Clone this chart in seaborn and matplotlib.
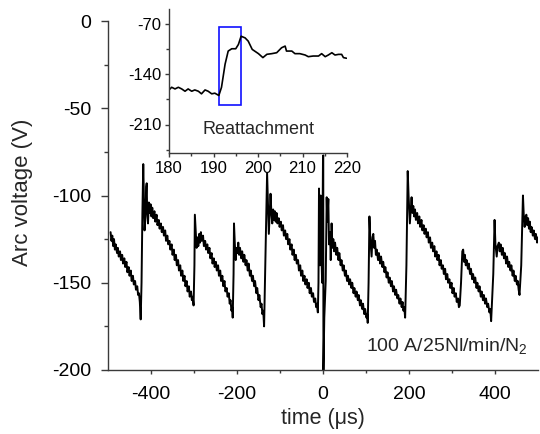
import numpy as np
import pandas as pd
import matplotlib
matplotlib.use("Agg")
import matplotlib.pyplot as plt
import seaborn as sns

# ---------------- data ----------------
time_us = [
    -494, -492, -490, -488, -486, -484, -482, -479, -477, -475, -472, -470, -467, -465, -462, -460,
    -457, -455, -452, -450, -447, -445, -442, -440, -437, -435, -432, -430, -428, -426, -425, -424,
    -422, -420, -418, -417, -415, -413, -411, -410, -409, -407, -405, -403, -401, -399, -397, -395,
    -392, -390, -387, -385, -382, -380, -377, -375, -372, -370, -367, -365, -362, -360, -357, -355,
    -352, -350, -347, -345, -342, -340, -337, -335, -332, -330, -327, -325, -322, -320, -317, -315,
    -312, -310, -307, -305, -303, -301,
    -299, -298, -296, -294, -292, -290, -288, -286, -284, -282, -279, -277, -274, -272, -269, -267,
    -264, -262, -259, -257, -254, -252, -249, -247, -244, -242, -239, -237, -234, -232, -229, -227,
    -224, -222, -219, -217, -215, -213, -211, -210,
    -208, -207, -205, -203, -201, -199, -197, -195, -193, -190, -188, -185, -183, -180, -178, -175,
    -173, -170, -168, -165, -163, -160, -158, -155, -153, -150, -148, -145, -143, -141, -139, -137,
    -135, -132, -130, -128, -126, -124, -122, -120, -118, -116, -114, -112, -110, -108, -106, -103,
    -101, -98, -96, -93, -91, -88, -86, -83, -81, -78, -76, -73, -71, -68, -66, -63, -61, -58, -56,
    -53, -51, -48, -46, -43, -41, -38, -36, -33, -31, -28, -26, -23, -21, -18, -16, -14, -12,
    -10.5, -9.3, -8, -7, -5.4, -4, -2, -1, 0, 0.6, 1.0, 3, 6.3, 8.6, 10, 12.4, 14, 16.3, 18, 20,
    22, 24, 26, 28, 31, 33, 36, 38, 41, 43, 46, 48, 51, 53, 56, 58, 61, 63, 66, 68, 71, 73, 76, 78,
    81, 83, 86, 88, 91, 93, 96, 98, 101, 103, 104,
    106, 108, 110, 113, 115, 117, 119, 121, 123, 125, 128, 130, 133, 135, 138, 140, 143, 145, 148,
    150, 153, 155, 158, 160, 163, 165, 168, 170, 173, 175, 178, 180, 183, 185, 187, 189, 191,
    194, 197, 199, 202, 204, 206, 208, 210, 212, 214, 216, 219, 221, 224, 226, 229, 231, 234, 236,
    239, 241, 244, 246, 249, 251, 254, 256, 259, 261, 264, 266, 269, 271, 274, 276, 279, 281, 284,
    286, 289, 291, 294, 296, 299, 301, 304, 306, 309, 311, 314, 316, 318,
    321, 324, 326, 328, 330, 332, 334, 337, 339, 342, 344, 347, 349, 352, 354, 357, 359, 362, 364,
    367, 369, 372, 374, 377, 379, 382, 384, 387, 389, 391,
    396, 399, 401, 404, 406, 409, 411, 413, 416, 418, 421, 423, 426, 428, 431, 433, 436, 438, 441,
    443, 446, 448, 451, 453, 455, 457,
    461, 465, 467, 469, 471, 473, 475, 477, 479, 481, 483, 485, 488, 490, 493, 495, 498, 500,
]
voltage_V = [
    -121, -126, -123, -129, -125, -131, -128, -133, -130, -135, -132, -137, -134, -139, -136, -141,
    -138, -144, -141, -146, -143, -149, -146, -151, -149, -154, -152, -157, -156, -161, -166, -171,
    -150, -110, -82, -95, -120, -112, -95, -93, -108, -116, -104, -110, -105, -112, -107, -113,
    -109, -115, -111, -117, -114, -119, -116, -121, -118, -123, -120, -126, -123, -128, -126, -131,
    -128, -134, -131, -137, -134, -140, -137, -143, -140, -146, -143, -149, -146, -152, -149, -155,
    -152, -158, -155, -160, -158, -163,
    -140, -111, -120, -130, -124, -129, -122, -127, -121, -126, -123, -129, -126, -131, -128, -133,
    -130, -136, -133, -139, -136, -141, -138, -143, -140, -146, -143, -149, -146, -152, -149, -155,
    -153, -158, -156, -162, -160, -166, -164, -170,
    -145, -116, -128, -137, -130, -133, -127, -134, -130, -136, -132, -138, -134, -140, -137, -143,
    -139, -146, -143, -149, -146, -152, -149, -156, -153, -160, -157, -164, -162, -168, -166, -175,
    -150, -110, -87, -105, -122, -110, -99, -110, -116, -108, -114, -109, -115, -110, -116, -113,
    -118, -115, -120, -117, -123, -120, -125, -122, -128, -125, -131, -128, -134, -131, -137, -134,
    -139, -137, -143, -140, -146, -143, -149, -146, -151, -148, -153, -150, -156, -153, -158, -156,
    -161, -159, -164, -162, -167,
    -150, -96, -125, -140, -100, -130, -150, -110, -78, -77, -201, -170, -149, -101, -115, -102,
    -128, -121, -137, -116,
    -130, -125, -132, -127, -134, -130, -137, -133, -140, -137, -143, -140, -146, -143, -149, -146,
    -151, -148, -153, -150, -156, -153, -158, -155, -160, -157, -163, -160, -165, -162, -168, -165,
    -170, -168, -173,
    -150, -112, -125, -135, -124, -122, -130, -126, -134, -131, -137, -133, -139, -135, -141, -138,
    -144, -141, -147, -144, -150, -147, -152, -149, -155, -152, -157, -154, -159, -157, -162, -159,
    -164, -161, -166, -164, -170,
    -140, -86, -100, -116, -108, -101, -110, -106, -112, -108, -114, -110, -116, -112, -118, -114,
    -120, -117, -122, -119, -124, -121, -127, -124, -130, -127, -132, -129, -135, -132, -137, -134,
    -140, -137, -142, -140, -145, -142, -148, -145, -150, -148, -153, -150, -156, -153, -158, -156,
    -161, -159, -164, -163,
    -150, -132, -131, -138, -134, -140, -137, -142, -139, -145, -142, -148, -145, -150, -147, -153,
    -150, -155, -152, -158, -155, -160, -157, -162, -159, -164, -162, -167, -165, -172,
    -145, -114, -128, -135, -129, -127, -132, -128, -134, -130, -136, -133, -139, -135, -141, -138,
    -143, -140, -146, -143, -149, -146, -151, -149, -154, -157,
    -140, -100, -112, -118, -112, -111, -117, -113, -119, -115, -121, -118, -123, -120, -125, -122,
    -127, -124,
]

# inset: zoom on the reattachment event
inset_time_us = [
    180.0, 180.6, 181.35, 182.1, 182.85, 183.6, 184.3, 185.1, 185.8, 186.6, 187.3, 188.1, 188.8,
    189.6, 190.3, 191.2, 191.8, 192.6, 193.3, 194.1, 195.0, 195.6, 196.2, 197.1, 197.8, 198.7,
    200.1, 201.1, 202.0, 203.1, 204.2, 205.3, 206.1, 206.4, 207.6, 208.3, 209.4, 210.6, 211.3,
    212.4, 213.6, 214.3, 215.1, 215.8, 216.6, 217.3, 218.1, 218.8, 219.2, 219.9,
]
inset_voltage_V = [
    -162, -158.3, -160.6, -158.3, -160.6, -163.8, -160.6, -163.8, -162, -163.8, -167.4, -162,
    -163.8, -167.4, -166.5, -169.7, -158.3, -126.3, -108, -104.8, -104.8, -98.8, -87.4, -89.7,
    -94.2, -105.7, -111.6, -117.1, -112.5, -111.6, -110.3, -103.4, -101.1, -108, -108, -111.6,
    -111.6, -113.5, -115.8, -114.9, -114.9, -111.6, -115.8, -113.5, -110.3, -113.5, -112.6,
    -112.6, -117.1, -118,
]
box_t = [191.3, 196.2]
box_v = [-183.5, -75.0]

main_xticks = [-400, -200, 0, 200, 400]
main_yticks = [0, -50, -100, -150, -200]
inset_xticks = [180, 190, 200, 210, 220]
inset_yticks = [-70, -140, -210]

# ---------------- style ----------------
sns.set_style("ticks")
plt.rcParams["font.family"] = ["Liberation Sans", "DejaVu Sans"]
plt.rcParams["mathtext.fontset"] = "custom"
plt.rcParams["mathtext.rm"] = "Liberation Sans"
plt.rcParams["mathtext.it"] = "Liberation Sans"
plt.rcParams["axes.unicode_minus"] = False

spine_col = "#3a3a3a"

fig = plt.figure(figsize=(5.4, 4.34), dpi=100)
ax = fig.add_axes([108 / 540, 1 - 370 / 434, 430 / 540, 349 / 434])

df = pd.DataFrame({"t": time_us, "v": voltage_V})
sns.lineplot(data=df, x="t", y="v", ax=ax, color="black", lw=1.4,
             estimator=None, sort=False)

ax.set_xlim(-500, 500)
ax.set_ylim(-200, 0)
ax.set_xticks(main_xticks)
ax.set_yticks(main_yticks)
ax.set_xticks([-300, -100, 100, 300], minor=True)
ax.set_yticks([-25, -75, -125, -175], minor=True)
ax.tick_params(axis="both", which="both", direction="out", color=spine_col,
               width=1.0, labelsize=14, labelcolor="black")
ax.tick_params(axis="y", which="major", length=5, pad=7)
ax.tick_params(axis="y", which="minor", length=3)
ax.tick_params(axis="x", which="major", length=3.2, pad=8)
ax.tick_params(axis="x", which="minor", length=2.5)
sns.despine(ax=ax)
for s in ["left", "bottom"]:
    ax.spines[s].set_color(spine_col)
    ax.spines[s].set_linewidth(1.0)
ax.set_xlabel("time (\u03bcs)", fontsize=15.5)
ax.set_ylabel("Arc voltage (V)", fontsize=16)
ax.xaxis.set_label_coords(0.5, -0.108)
ax.yaxis.set_label_coords(-0.175, 0.51)
ax.text(477, -186, "100 A/25Nl/min/N$_2$", ha="right", va="center", fontsize=14)

# ---------------- inset ----------------
ax_in = fig.add_axes([169 / 540, 1 - 153.3 / 434, 178 / 540, 144 / 434])
ax_in.patch.set_alpha(0)
dfi = pd.DataFrame({"t": inset_time_us, "v": inset_voltage_V})
sns.lineplot(data=dfi, x="t", y="v", ax=ax_in, color="black", lw=1.2,
             estimator=None, sort=False)
ax_in.add_patch(plt.Rectangle((box_t[0], box_v[0]), box_t[1] - box_t[0], box_v[1] - box_v[0],
                              fill=False, edgecolor="#1010ff", lw=1.2))
ax_in.set_xlim(180, 220)
ax_in.set_ylim(-250, -50)
ax_in.set_xticks(inset_xticks)
ax_in.set_yticks(inset_yticks)
ax_in.set_xticks([185, 195, 205, 215], minor=True)
ax_in.set_yticks([-105, -175, -245], minor=True)
ax_in.tick_params(axis="both", which="both", direction="out", color=spine_col,
                  width=1.0, labelsize=12, labelcolor="black")
ax_in.tick_params(which="major", length=3, pad=2.5)
ax_in.tick_params(which="minor", length=2)
sns.despine(ax=ax_in)
for s in ["left", "bottom"]:
    ax_in.spines[s].set_color(spine_col)
    ax_in.spines[s].set_linewidth(1.0)
ax_in.set_xlabel("")
ax_in.set_ylabel("")
ax_in.text(200, -217, "Reattachment", ha="center", va="center", fontsize=13)

fig.savefig("out.png", dpi=100)
